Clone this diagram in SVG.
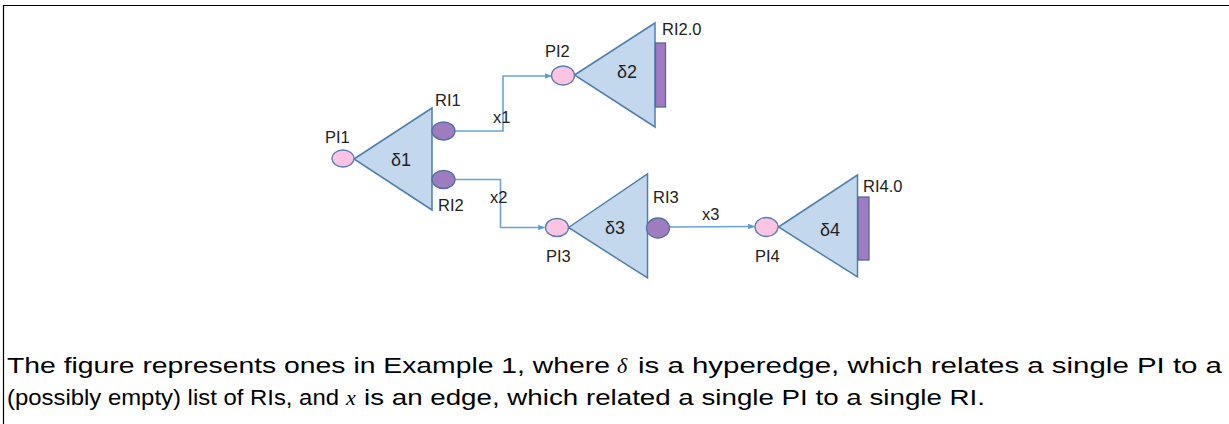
<svg xmlns="http://www.w3.org/2000/svg" width="1229" height="424" viewBox="0 0 1229 424">
<defs>
<style>
.tri{fill:#c3d8ed;stroke:#4f7fae;stroke-width:1.5}
.pi{fill:#fcc4e2;stroke:#5b7fb0;stroke-width:1.3}
.ri{fill:#9f7cc0;stroke:#56719f;stroke-width:1.3}
.bar{fill:#a27ac2;stroke:#4f6c9c;stroke-width:1.3}
.lbl{font-family:"Liberation Sans",Arial,sans-serif;font-size:16.5px;fill:#222}
.dl{font-family:"Liberation Sans",Arial,sans-serif;font-size:18px;fill:#222}
.edge{fill:none;stroke:#6aa3da;stroke-width:1.6}
.cap{font-family:"Liberation Sans",Arial,sans-serif;font-size:22px;fill:#000}
.math{font-family:"Liberation Serif","Times New Roman",serif;font-style:italic;font-size:22px;fill:#000}
</style>
<marker id="arr" viewBox="0 0 10 10" refX="9" refY="5" markerWidth="7" markerHeight="7" markerUnits="userSpaceOnUse" orient="auto">
<path d="M0,1 L10,5 L0,9 z" fill="#5b9bd5"/>
</marker>
</defs>
<rect width="1229" height="424" fill="#fff"/>
<path d="M3.5,424 L3.5,5.5 L1229,5.5" fill="none" stroke="#000" stroke-width="1.2"/>

<g id="connectors">
<path class="edge" d="M455,131 L503,131 L503,76 L551,76" marker-end="url(#arr)"/>
<text class="lbl" x="493" y="123">x1</text>
<path class="edge" d="M455,179.5 L500.5,179.5 L500.5,227.5 L544.5,227.5" marker-end="url(#arr)"/>
<text class="lbl" x="490" y="203">x2</text>
<path class="edge" d="M669.5,227 L754.5,226.5" marker-end="url(#arr)"/>
<text class="lbl" x="702" y="220">x3</text>
</g>

<g id="d1">
<polygon class="tri" points="354,159 432,108 432,210"/>
<text class="dl" x="401" y="166" text-anchor="middle">δ1</text>
</g>
<g id="PI1">
<ellipse class="pi" cx="343" cy="158.5" rx="11" ry="8.5"/>
<text class="lbl" x="325" y="143">PI1</text>
</g>
<g id="RI1">
<ellipse class="ri" cx="443.5" cy="131" rx="11.5" ry="9"/>
<text class="lbl" x="435" y="106">RI1</text>
</g>
<g id="RI2">
<ellipse class="ri" cx="443.5" cy="179.5" rx="11.5" ry="9"/>
<text class="lbl" x="438" y="211">RI2</text>
</g>

<g id="d2">
<polygon class="tri" points="574.5,75 655,23 655,127"/>
<rect class="bar" x="655.5" y="43" width="10" height="64"/>
<text class="dl" x="627" y="78" text-anchor="middle">δ2</text>
<text class="lbl" x="662" y="35">RI2.0</text>
</g>
<g id="PI2">
<ellipse class="pi" cx="563" cy="75.5" rx="11.5" ry="9.5"/>
<text class="lbl" x="545" y="57">PI2</text>
</g>

<g id="d3">
<polygon class="tri" points="568.5,227.5 647.5,174 647.5,278"/>
<text class="dl" x="615" y="234" text-anchor="middle">δ3</text>
</g>
<g id="PI3">
<ellipse class="pi" cx="557" cy="227.5" rx="11.5" ry="9"/>
<text class="lbl" x="546" y="262">PI3</text>
</g>
<g id="RI3">
<ellipse class="ri" cx="658" cy="228" rx="11.5" ry="10"/>
<text class="lbl" x="653" y="203">RI3</text>
</g>

<g id="d4">
<polygon class="tri" points="778.5,227 857.5,175 857.5,277"/>
<rect class="bar" x="858" y="197" width="11" height="63"/>
<text class="dl" x="830" y="236" text-anchor="middle">δ4</text>
<text class="lbl" x="863" y="192">RI4.0</text>
</g>
<g id="PI4">
<ellipse class="pi" cx="766.5" cy="227" rx="11.5" ry="9.5"/>
<text class="lbl" x="755" y="262">PI4</text>
</g>

<g id="caption">
<text class="cap" x="7" y="373" textLength="603" lengthAdjust="spacingAndGlyphs">The figure represents ones in Example 1, where</text>
<text class="math" x="617" y="373">δ</text>
<text class="cap" x="638" y="373" textLength="584" lengthAdjust="spacingAndGlyphs">is a hyperedge, which relates a single PI to a</text>
<text class="cap" x="7" y="405" textLength="332" lengthAdjust="spacingAndGlyphs">(possibly empty) list of RIs, and</text>
<text class="math" x="346" y="405">x</text>
<text class="cap" x="364" y="405" textLength="621" lengthAdjust="spacingAndGlyphs">is an edge, which related a single PI to a single RI.</text>
</g>
</svg>
